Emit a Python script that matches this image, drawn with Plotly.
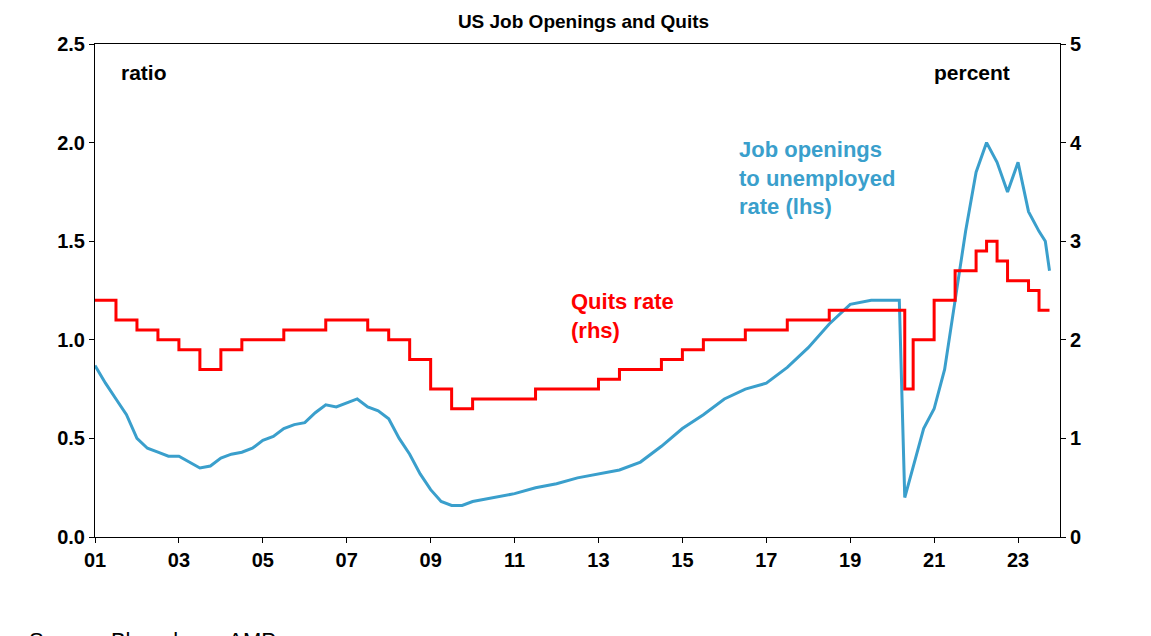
import plotly.graph_objects as go

# job openings to unemployed ratio (lhs)
ratio_x = [2001.0, 2001.25, 2001.5, 2001.75, 2002.0, 2002.25, 2002.5, 2002.75, 2003.0, 2003.25,
           2003.5, 2003.75, 2004.0, 2004.25, 2004.5, 2004.75, 2005.0, 2005.25, 2005.5, 2005.75,
           2006.0, 2006.25, 2006.5, 2006.75, 2007.0, 2007.25, 2007.5, 2007.75, 2008.0, 2008.25,
           2008.5, 2008.75, 2009.0, 2009.25, 2009.5, 2009.75, 2010.0, 2010.5, 2011.0, 2011.5,
           2012.0, 2012.5, 2013.0, 2013.5, 2014.0, 2014.5, 2015.0, 2015.5, 2016.0, 2016.5,
           2017.0, 2017.5, 2018.0, 2018.5, 2019.0, 2019.5, 2020.0, 2020.17, 2020.3, 2020.5,
           2020.75, 2021.0, 2021.25, 2021.5, 2021.75, 2022.0, 2022.25, 2022.5, 2022.75, 2023.0,
           2023.25, 2023.5, 2023.65, 2023.75]
ratio_y = [0.87, 0.78, 0.70, 0.62, 0.50, 0.45, 0.43, 0.41, 0.41, 0.38,
           0.35, 0.36, 0.40, 0.42, 0.43, 0.45, 0.49, 0.51, 0.55, 0.57,
           0.58, 0.63, 0.67, 0.66, 0.68, 0.70, 0.66, 0.64, 0.60, 0.50,
           0.42, 0.32, 0.24, 0.18, 0.16, 0.16, 0.18, 0.20, 0.22, 0.25,
           0.27, 0.30, 0.32, 0.34, 0.38, 0.46, 0.55, 0.62, 0.70, 0.75,
           0.78, 0.86, 0.96, 1.08, 1.18, 1.20, 1.20, 1.20, 0.20, 0.35,
           0.55, 0.65, 0.85, 1.20, 1.55, 1.85, 2.00, 1.90, 1.75, 1.90,
           1.65, 1.55, 1.50, 1.35]

# quits rate (rhs, percent)
quits_x = [2001.0, 2001.5, 2002.0, 2002.5, 2003.0, 2003.5, 2004.0, 2004.5, 2005.0, 2005.5,
           2006.0, 2006.5, 2007.0, 2007.5, 2008.0, 2008.5, 2009.0, 2009.5, 2010.0, 2010.5,
           2011.0, 2011.5, 2012.0, 2012.5, 2013.0, 2013.5, 2014.0, 2014.5, 2015.0, 2015.5,
           2016.0, 2016.5, 2017.0, 2017.5, 2018.0, 2018.5, 2019.0, 2019.5, 2020.0, 2020.17,
           2020.3, 2020.5, 2021.0, 2021.5, 2022.0, 2022.25, 2022.5, 2022.75, 2023.0, 2023.25,
           2023.5, 2023.75]
quits_y = [2.4, 2.2, 2.1, 2.0, 1.9, 1.7, 1.9, 2.0, 2.0, 2.1,
           2.1, 2.2, 2.2, 2.1, 2.0, 1.8, 1.5, 1.3, 1.4, 1.4,
           1.4, 1.5, 1.5, 1.5, 1.6, 1.7, 1.7, 1.8, 1.9, 2.0,
           2.0, 2.1, 2.1, 2.2, 2.2, 2.3, 2.3, 2.3, 2.3, 2.3,
           1.5, 2.0, 2.4, 2.7, 2.9, 3.0, 2.8, 2.6, 2.6, 2.5,
           2.3, 2.3]

tick_vals = [2001, 2003, 2005, 2007, 2009, 2011, 2013, 2015, 2017, 2019, 2021, 2023]
tick_text = ["01", "03", "05", "07", "09", "11", "13", "15", "17", "19", "21", "23"]

blue = "#3a9fcc"
red = "#ff0000"
font = "Liberation Sans, Arial, sans-serif"

fig = go.Figure()
fig.add_trace(go.Scatter(x=quits_x, y=quits_y, mode="lines", line=dict(color=red, width=3, shape="hv"),
                         yaxis="y2", name="Quits rate (rhs)"))
fig.add_trace(go.Scatter(x=ratio_x, y=ratio_y, mode="lines", line=dict(color=blue, width=3),
                         name="Job openings to unemployed rate (lhs)"))

axis_common = dict(showgrid=False, zeroline=False, showline=True, linecolor="black", linewidth=1,
                   ticks="outside", tickcolor="black",
                   tickfont=dict(family=font, size=20, color="black", weight="bold"))

fig.update_layout(
    width=1151, height=636,
    plot_bgcolor="white", paper_bgcolor="white",
    showlegend=False,
    margin=dict(l=87, r=99, t=36, b=107),
    title=dict(text="<b>US Job Openings and Quits</b>", x=0.5, xanchor="center", y=0.99, yanchor="top",
               font=dict(family=font, size=19, color="black")),
    xaxis=dict(range=[2001, 2024], tickvals=tick_vals, ticktext=tick_text, mirror=True, **axis_common),
    yaxis=dict(range=[0, 2.5], dtick=0.5, tickformat=".1f", **axis_common),
    yaxis2=dict(range=[0, 5], dtick=1, overlaying="y", side="right", **axis_common),
    annotations=[
        dict(text="<b>ratio</b>", x=0.025, y=0.97, xref="paper", yref="paper", xanchor="left", yanchor="top",
             showarrow=False, font=dict(family=font, size=21, color="black")),
        dict(text="<b>percent</b>", x=0.95, y=0.97, xref="paper", yref="paper", xanchor="right", yanchor="top",
             showarrow=False, font=dict(family=font, size=21, color="black")),
        dict(text="<b>Job openings<br>to unemployed<br>rate (lhs)</b>", x=2016.3, y=2.04, xanchor="left",
             yanchor="top", align="left", showarrow=False, font=dict(family=font, size=22, color=blue)),
        dict(text="<b>Quits rate<br>(rhs)</b>", x=2012.3, y=1.27, xanchor="left", yanchor="top",
             align="left", showarrow=False, font=dict(family=font, size=22, color=red)),
        dict(text="Source: Bloomberg, AMP", x=-0.07, y=-0.24, xref="paper", yref="paper",
             xanchor="left", yanchor="bottom", showarrow=False,
             font=dict(family=font, size=22, color="black")),
    ],
)

fig.write_html("out.html")
